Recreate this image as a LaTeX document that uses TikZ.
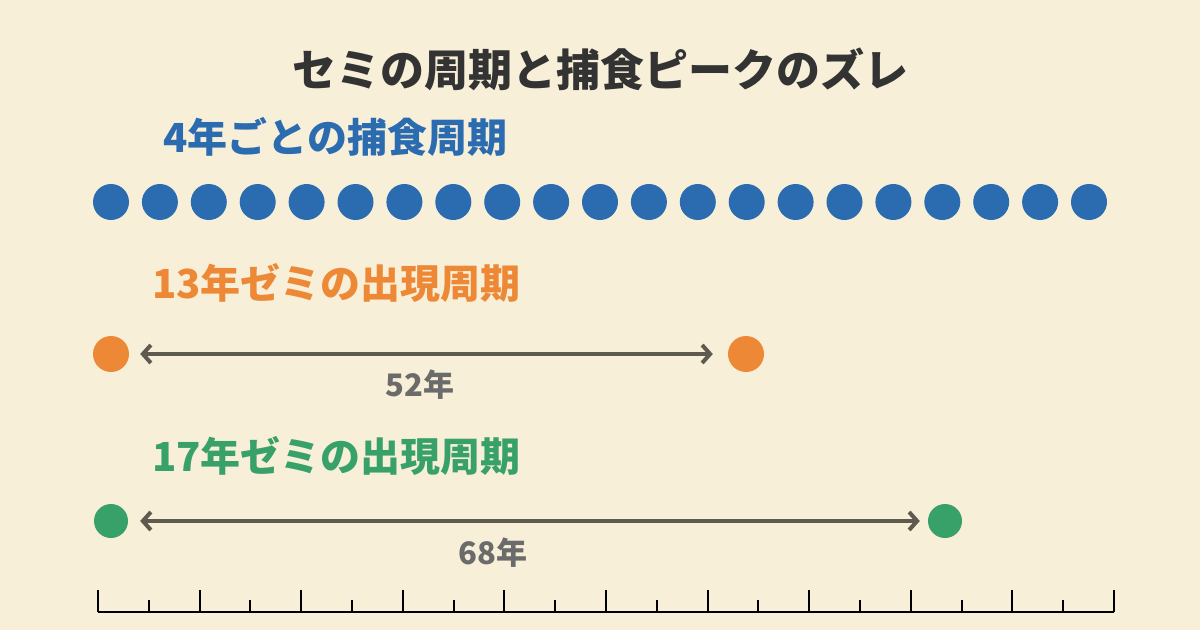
\documentclass[tikz,border=0pt]{standalone}
\usepackage{xcolor}
\usepackage{fontspec}
\usepackage{tikz}
\usetikzlibrary{arrows.meta,positioning}
\setmainfont{Noto Sans CJK JP}
\definecolor{bgColor}{RGB}{248, 239, 216}
\definecolor{titleColor}{RGB}{51, 51, 51}
\definecolor{blueColor}{RGB}{43, 108, 176}
\definecolor{orangeColor}{RGB}{237, 137, 54}
\definecolor{greenColor}{RGB}{56, 161, 105}
\definecolor{arrowColor}{RGB}{95, 90, 80}
\definecolor{labelColor}{RGB}{107, 107, 107}

\tikzset{
    dot/.style={circle, inner sep=0pt, minimum size=36pt},
    heading/.style={anchor=west, inner sep=0pt, font=\fontsize{40}{44}\selectfont\bfseries},
    yearspan/.style={draw=arrowColor, line width=4pt, {Straight Barb[length=8pt,width=18pt]}-{Straight Barb[length=8pt,width=18pt]}},
    yearlabel/.style={inner sep=0pt, text=labelColor, font=\fontsize{31}{34}\selectfont\bfseries}
}

\begin{document}
\begin{tikzpicture}[x=1pt, y=-1pt]
            % Background
            \fill[bgColor] (0,0) rectangle (1200,630);
            \useasboundingbox (0,0) rectangle (1200,630);

            % Title text
            \node[inner sep=0pt, text=titleColor, font=\fontsize{44}{48}\selectfont\bfseries] (title) at (600,69) {セミの周期と捕食ピークのズレ};

            % Predator cycle
            \node[heading, text=blueColor] (predHead) at (163,137) {4年ごとの捕食周期};
            \foreach \i in {0,...,20} {
                \node[dot, fill=blueColor] (pred\i) at (111+48.9*\i,202) {};
            }

            % 13-year cicada
            \node[heading, text=orangeColor] (thirteenHead) at (152,283) {13年ゼミの出現周期};
            \node[dot, fill=orangeColor] (thirteenA) at (111,354) {};
            \node[dot, fill=orangeColor] (thirteenB) at (746,354) {};
            \draw[yearspan, shorten <=11pt, shorten >=15pt] (thirteenA) -- (thirteenB);
            \node[yearlabel] (thirteenYears) at (420,385) {52年};

            % 17-year cicada
            \node[heading, text=greenColor] (seventeenHead) at (152,456) {17年ゼミの出現周期};
            \node[dot, fill=greenColor, minimum size=34pt] (seventeenA) at (111,521) {};
            \node[dot, fill=greenColor, minimum size=34pt] (seventeenB) at (945,521) {};
            \draw[yearspan, shorten <=12pt, shorten >=8pt] (seventeenA) -- (seventeenB);
            \node[yearlabel] (seventeenYears) at (493,553) {68年};

            % Time axis
            \draw[line width=2.2pt] (98,612) -- (1114,612);
            \foreach \k in {0,...,20} {
                \pgfmathsetmacro{\tick}{ifthenelse(mod(\k,2)==0,22,12)}
                \draw[line width=2pt] (98+50.8*\k,612) -- ++(0,-\tick);
            }
        \end{tikzpicture}
\end{document}
